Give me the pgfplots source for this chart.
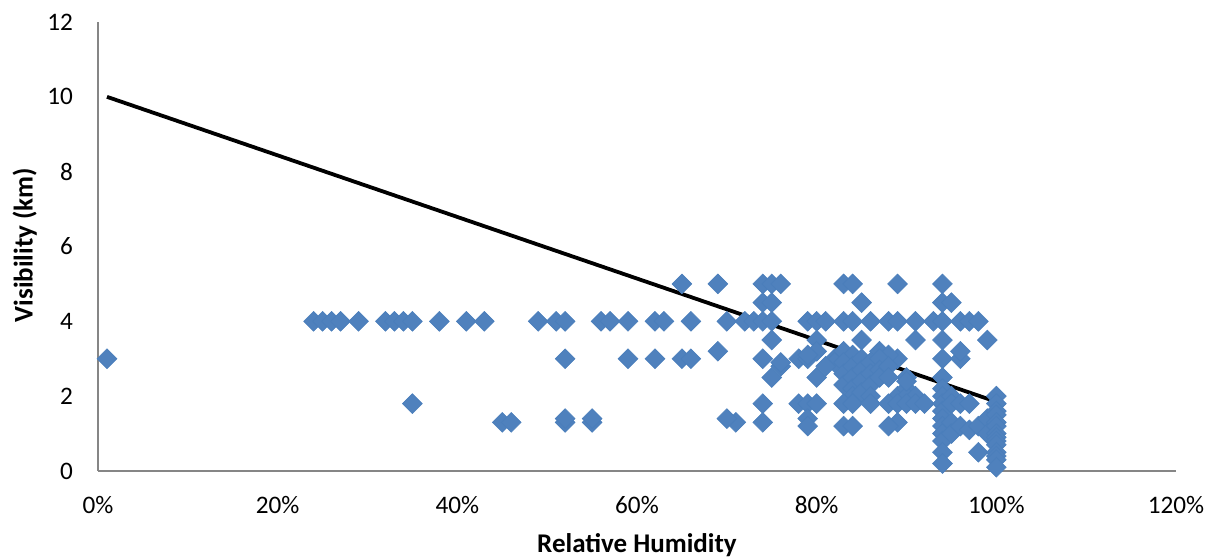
\documentclass[border=0pt]{standalone}
\usepackage{fontspec}
\setmainfont{Carlito}
\usepackage{pgfplots}
\pgfplotsset{compat=1.18}
\definecolor{xlblue}{HTML}{4F81BD}
\definecolor{xlblueedge}{HTML}{4A7EBB}
\definecolor{xlgray}{HTML}{868686}

\begin{document}
\begin{tikzpicture}
\begin{axis}[
    name=ax,
    scale only axis,
    width=539pt, height=224.5pt,
    xmin=0, xmax=120, ymin=0, ymax=12,
    xtick={0,20,...,120}, ytick={0,2,...,12},
    axis x line=bottom, axis y line=left,
    axis line style={-, xlgray, line width=0.75pt},
    major tick length=0pt,
    /pgf/number format/assume math mode=true,
    xticklabel={\pgfmathprintnumber{\tick}\%},
    tick label style={font=\fontsize{12.6}{15}\selectfont, black},
    yticklabel style={xshift=-9pt},
    xticklabel style={yshift=-9pt},
    xlabel={Relative Humidity},
    ylabel={Visibility (km)},
    label style={font=\fontsize{13.5}{16}\selectfont\bfseries},
    xlabel style={at={(axis description cs:0.5,-0.165)}, anchor=center},
    ylabel style={at={(axis description cs:-0.068,0.503)}, anchor=center},
    clip=false,
]
% observations
\addplot[only marks, mark=square*, mark size=3.5pt,
    mark options={rotate=45, fill=xlblue, draw=xlblueedge, line width=0.3pt}]
coordinates {
(24,4) (25,4) (26,4) (27,4) (29,4) (32,4) (33,4) (34,4) (35,4) (38,4)
(41,4) (43,4) (49,4) (51,4) (52,4) (56,4) (57,4) (59,4) (62,4) (63,4)
(66,4) (70,4) (72,4) (73,4) (74,4) (75,4) (79,4) (80,4) (81,4) (83,4)
(84,4) (86,4) (88,4) (89,4) (91,4) (93,4) (94,4) (96,4) (97,4) (98,4)
(65,5) (69,5) (74,5) (75,5) (76,5) (83,5) (84,5) (89,5) (94,5)
(74,4.5) (75,4.5) (85,4.5) (94,4.5) (95,4.5)
(75,3.5) (80,3.5) (85,3.5) (91,3.5) (94,3.5) (99,3.5)
(1,3) (52,3) (59,3) (62,3) (65,3) (66,3) (74,3) (78,3) (79,3) (82,3)
(89,3) (94,3) (96,3)
(69,3.2) (80,3.2) (87,3.2) (96,3.2) (79,3.1) (88,3.1)
(75,2.5) (80,2.5) (90,2.5) (76,2.8) (76,2.9)
(83,3.2) (84,3.1) (82,2.9) (83,2.9) (83,2.6) (83,2.3) (84,2.8) (84,2.5)
(84,2.2) (84,2.0) (85,3.0) (85,2.7) (85,2.4) (85,2.1) (86,2.9) (86,2.6)
(86,2.3) (86,2.0) (87,3.0) (87,2.7) (87,2.5) (88,2.8) (88,2.5) (81,2.8)
(89,2.0) (90,2.2) (90,2.0) (91,2.0) (90,2.4)
(35,1.8) (74,1.8) (78,1.8) (79,1.8) (80,1.8) (83,1.8) (84,1.8) (86,1.8)
(88,1.8) (89,1.8) (90,1.8) (91,1.8) (92,1.8)
(45,1.3) (46,1.3) (52,1.3) (55,1.3) (71,1.3) (74,1.3) (89,1.3)
(52,1.4) (55,1.4) (70,1.4) (79,1.4)
(79,1.2) (83,1.2) (84,1.2) (88,1.2)
(94,2.5) (94,2.2) (94,2.0) (94,1.8) (94,1.6) (94,1.4) (94,1.2) (94,1.0)
(94,0.8) (94,0.5) (94,0.2)
(95,2.0) (95,1.8) (95,1.3) (95,1.0)
(96,1.8) (96,1.2)
(97,1.8) (97,1.1)
(98,1.2) (98,0.5)
(99,1.4) (99,1.0)
(100,2.0) (100,1.8) (100,1.6) (100,1.5) (100,1.3) (100,1.2) (100,1.0)
(100,0.9) (100,0.8) (100,0.7) (100,0.5) (100,0.4) (100,0.3) (100,0.1)
};
% linear trend line
\addplot[black, line width=1.9pt] coordinates {(1,10.0) (100,1.85)};
\end{axis}
\pgfresetboundingbox
\path ([shift={(-49pt,-44.5pt)}]ax.south west) rectangle ([shift={(22.5pt,11pt)}]ax.north east);
\end{tikzpicture}
\end{document}
